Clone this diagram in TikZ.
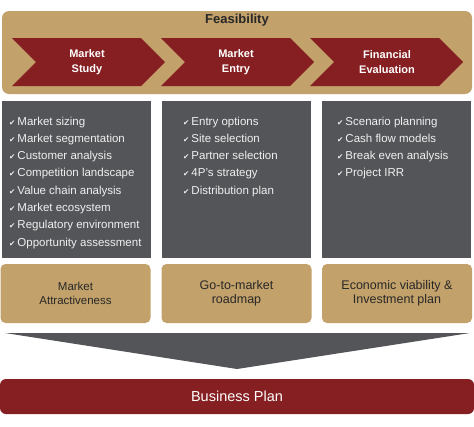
\documentclass[tikz,border=0pt]{standalone}
\usepackage{fontspec}
\setmainfont{Liberation Sans}
\newfontfamily\checkfont{DejaVu Sans}
\usetikzlibrary{positioning}

\definecolor{sand}{RGB}{194,161,106}
\definecolor{wine}{RGB}{134,31,33}
\definecolor{slate}{RGB}{84,85,89}
\definecolor{ink}{RGB}{40,40,40}

\newcommand{\tick}{{\checkfont\fontsize{7.5}{7.5}\selectfont ✔}\hspace{2pt}}

\begin{document}
\begin{tikzpicture}[x=1pt, y=-1pt,
    band/.style={fill=sand, rounded corners=7pt, minimum width=470pt, minimum height=83pt, inner sep=0pt},
    stage/.style={text=white, font=\bfseries\fontsize{11}{15}\selectfont, align=center},
    panel/.style={fill=slate, minimum width=149pt, minimum height=157pt, inner sep=0pt},
    item/.style={anchor=base west, text=white!94!black, font=\fontsize{11.5}{14}\selectfont, inner sep=0pt},
    outcome/.style={fill=sand, rounded corners=5pt, minimum width=150pt, minimum height=59pt, inner sep=0pt, text=ink, align=center, font=\fontsize{12.5}{14.5}\selectfont},
    plan/.style={fill=wine, rounded corners=6pt, minimum width=474pt, minimum height=35pt, inner sep=0pt, text=white, font=\fontsize{14.5}{16}\selectfont}]
    \useasboundingbox (0,0) rectangle (474,426);

    % Feasibility band
    \node[band] (feas) at (237,52.5) {};
    \node[font=\bfseries\fontsize{13}{15}\selectfont, text=ink] (feaslabel) at (237,20) {Feasibility};

    % Chevrons
    \fill[wine] (12,38) -- ++(129,0) -- ++(24,24) -- ++(-24,24) -- ++(-129,0) -- ++(24,-24) -- cycle;
    \fill[wine] (161,38) -- ++(129,0) -- ++(24,24) -- ++(-24,24) -- ++(-129,0) -- ++(24,-24) -- cycle;
    \fill[wine] (310,38) -- ++(129,0) -- ++(24,24) -- ++(-24,24) -- ++(-129,0) -- ++(24,-24) -- cycle;
    \node[stage] (study) at (87,62) {Market\\Study};
    \node[stage] (entry) at (236,62) {Market\\Entry};
    \node[stage] (finance) at (387,62) {Financial\\Evaluation};

    % Grey panels
    \node[panel] (studybox) at (76.5,179.5) {};
    \node[panel] (entrybox) at (236.5,179.5) {};
    \node[panel] (financebox) at (396.5,179.5) {};

    % Market study items
    \foreach \t [count=\i] in {Market sizing, Market segmentation, Customer analysis,
        Competition landscape, Value chain analysis, Market ecosystem,
        Regulatory environment, Opportunity assessment}
        \node[item] (studyitem\i) at (9,125+17.3*\i-17.3) {\tick\t};

    % Market entry items
    \foreach \t [count=\i] in {Entry options, Site selection, Partner selection,
        4P's strategy, Distribution plan}
        \node[item] (entryitem\i) at (183,125+17.3*\i-17.3) {\tick\t};

    % Financial evaluation items
    \foreach \t [count=\i] in {Scenario planning, Cash flow models,
        Break even analysis, Project IRR}
        \node[item] (financeitem\i) at (337,125+17.3*\i-17.3) {\tick\t};

    % Outcomes
    \node[outcome, font=\fontsize{11.5}{14}\selectfont] (attract) at (75.5,293.5) {Market\\Attractiveness};
    \node[outcome] (roadmap) at (236.5,293.5) {Go-to-market\\roadmap};
    \node[outcome] (viability) at (397,293.5) {Economic viability \&\\Investment plan};

    % Funnel
    \fill[slate] (5,333) -- (470,333) -- (237,369) -- cycle;

    % Business plan
    \node[plan] (bplan) at (237,396.5) {Business Plan};
\end{tikzpicture}
\end{document}
